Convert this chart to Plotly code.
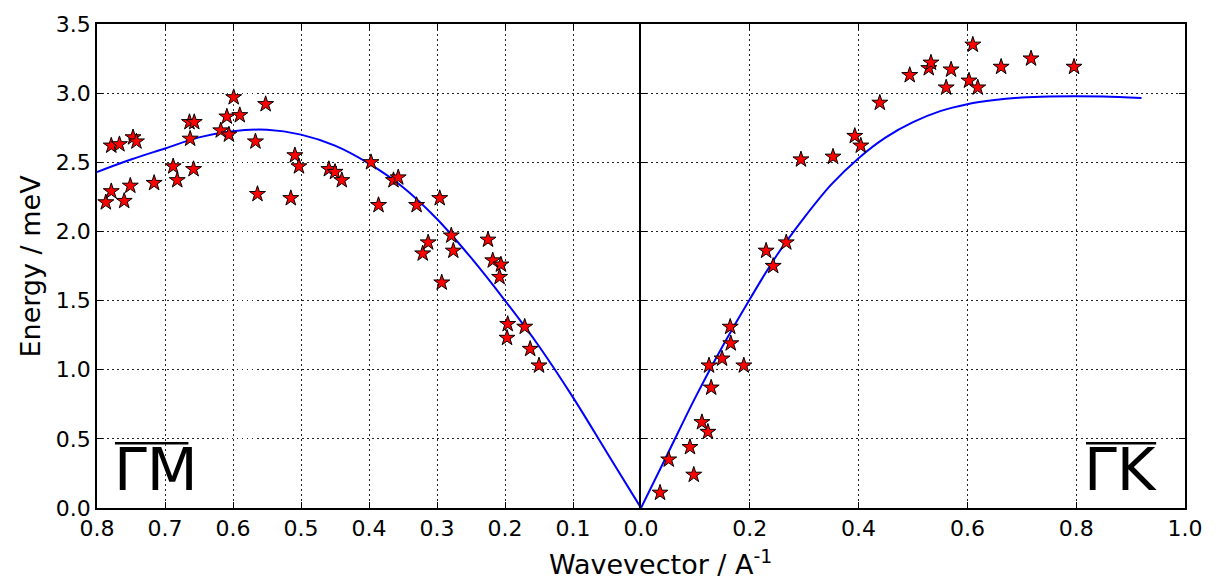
import plotly.graph_objects as go
from plotly.subplots import make_subplots

# Gamma-M direction (left panel), wavevector in A^-1, energy in meV
gm_k = [0.787, 0.779, 0.779, 0.767, 0.760, 0.751, 0.747, 0.742, 0.716, 0.688,
        0.682, 0.664, 0.663, 0.657, 0.658, 0.618, 0.609, 0.606, 0.599, 0.590,
        0.567, 0.564, 0.552, 0.515, 0.509, 0.503, 0.459, 0.450, 0.440, 0.397,
        0.386, 0.364, 0.357, 0.330, 0.321, 0.313, 0.296, 0.293, 0.279, 0.276,
        0.225, 0.218, 0.206, 0.208, 0.196, 0.197, 0.171, 0.163, 0.150]
gm_e = [2.21, 2.29, 2.62, 2.63, 2.22, 2.33, 2.68, 2.65, 2.35, 2.47,
        2.37, 2.79, 2.67, 2.79, 2.45, 2.73, 2.83, 2.70, 2.97, 2.84,
        2.65, 2.27, 2.92, 2.24, 2.55, 2.47, 2.45, 2.43, 2.37, 2.50,
        2.19, 2.37, 2.39, 2.19, 1.84, 1.92, 2.24, 1.63, 1.97, 1.86,
        1.94, 1.79, 1.76, 1.67, 1.33, 1.23, 1.31, 1.15, 1.03]

gm_fit_k = [0.0, 0.05, 0.1, 0.15, 0.2, 0.25, 0.3, 0.35, 0.4, 0.45, 0.5,
            0.55, 0.6, 0.65, 0.7, 0.75, 0.8]
gm_fit_e = [0.0, 0.40, 0.80, 1.17, 1.50, 1.81, 2.09, 2.32, 2.49, 2.62, 2.70,
            2.735, 2.725, 2.68, 2.60, 2.52, 2.43]

# Gamma-K direction (right panel)
gk_k = [0.035, 0.051, 0.097, 0.090, 0.112, 0.123, 0.129, 0.125, 0.149, 0.165,
        0.164, 0.189, 0.230, 0.243, 0.267, 0.294, 0.353, 0.393, 0.404, 0.439,
        0.494, 0.529, 0.533, 0.570, 0.561, 0.603, 0.619, 0.610, 0.662, 0.717,
        0.796]
gk_e = [0.11, 0.35, 0.24, 0.44, 0.62, 0.55, 0.87, 1.03, 1.08, 1.19,
        1.31, 1.03, 1.86, 1.75, 1.92, 2.52, 2.54, 2.69, 2.62, 2.93,
        3.13, 3.18, 3.22, 3.17, 3.04, 3.09, 3.04, 3.35, 3.19, 3.25,
        3.19]

gk_fit_k = [0.0, 0.05, 0.1, 0.15, 0.2, 0.25, 0.3, 0.35, 0.4, 0.45, 0.5,
            0.55, 0.6, 0.65, 0.7, 0.75, 0.8, 0.85, 0.92]
gk_fit_e = [0.0, 0.40, 0.80, 1.17, 1.51, 1.83, 2.10, 2.34, 2.53, 2.68, 2.79,
            2.87, 2.92, 2.95, 2.968, 2.976, 2.978, 2.975, 2.965]

left_ticks = [0.8, 0.7, 0.6, 0.5, 0.4, 0.3, 0.2, 0.1]
right_ticks = [0.0, 0.2, 0.4, 0.6, 0.8, 1.0]
y_ticks = [0.0, 0.5, 1.0, 1.5, 2.0, 2.5, 3.0, 3.5]

FONT = "DejaVu Sans"

fig = make_subplots(rows=1, cols=2, shared_yaxes=False, horizontal_spacing=0)

star = dict(symbol="star", size=12, color="red", line=dict(color="black", width=1))
blue = dict(color="blue", width=2)

fig.add_trace(go.Scatter(x=gm_fit_k, y=gm_fit_e, mode="lines", line=blue,
                         line_shape="spline", showlegend=False), row=1, col=1)
fig.add_trace(go.Scatter(x=gm_k, y=gm_e, mode="markers", marker=star,
                         showlegend=False, cliponaxis=False), row=1, col=1)
fig.add_trace(go.Scatter(x=gk_fit_k, y=gk_fit_e, mode="lines", line=blue,
                         line_shape="spline", showlegend=False), row=1, col=2)
fig.add_trace(go.Scatter(x=gk_k, y=gk_e, mode="markers", marker=star,
                         showlegend=False, cliponaxis=False), row=1, col=2)

axis_common = dict(
    showline=True, linecolor="black", linewidth=1.5, mirror="ticks",
    ticks="inside", ticklen=6, tickwidth=1, tickcolor="black",
    showgrid=True, gridcolor="#222222", gridwidth=1, griddash="1.5px,3.5px",
    zeroline=False, tickfont=dict(family=FONT, size=22, color="black"),
)

fig.update_xaxes(axis_common)
fig.update_yaxes(axis_common)

fig.update_xaxes(range=[0.8, 0.0], tickvals=left_ticks,
                 ticktext=[f"{v:.1f}" for v in left_ticks],
                 domain=[0.0, 0.5], row=1, col=1)
fig.update_xaxes(range=[0.0, 1.0], tickvals=right_ticks,
                 ticktext=[f"{v:.1f}" for v in right_ticks],
                 domain=[0.5, 1.0], row=1, col=2)
fig.update_yaxes(range=[0.0, 3.5], tickvals=y_ticks, mirror=False,
                 ticktext=[f"{v:.1f}" for v in y_ticks], row=1, col=1)
fig.update_yaxes(range=[0.0, 3.5], tickvals=y_ticks, showticklabels=False,
                 row=1, col=2)

# Panel labels with overlines
fig.add_annotation(text="ΓM", xref="x domain", yref="y domain", x=0.027, y=0.004,
                   xanchor="left", yanchor="bottom", showarrow=False,
                   font=dict(family=FONT, size=59, color="black"))
fig.add_annotation(text="ΓK", xref="x2 domain", yref="y2 domain", x=0.953, y=0.004,
                   xanchor="right", yanchor="bottom", showarrow=False,
                   font=dict(family=FONT, size=59, color="black"))
fig.add_shape(type="line", xref="x domain", yref="y domain",
              x0=0.033, x1=0.168, y0=0.134, y1=0.134,
              line=dict(color="black", width=2.5))
fig.add_shape(type="line", xref="x2 domain", yref="y2 domain",
              x0=0.818, x1=0.947, y0=0.134, y1=0.134,
              line=dict(color="black", width=2.5))

# Axis titles
fig.add_annotation(text="Energy / meV", xref="paper", yref="paper",
                   x=-0.062, y=0.5, xanchor="center", yanchor="middle",
                   textangle=-90, showarrow=False,
                   font=dict(family=FONT, size=27, color="black"))
fig.add_annotation(text="Wavevector / A<sup>-1</sup>", xref="paper", yref="paper",
                   x=0.518, y=-0.072, xanchor="center", yanchor="top",
                   showarrow=False, font=dict(family=FONT, size=27, color="black"))

fig.update_layout(
    width=1219, height=581,
    margin=dict(l=97, r=34, t=20, b=73),
    paper_bgcolor="white", plot_bgcolor="white",
    font=dict(family=FONT, color="black"),
    showlegend=False,
)

fig.write_html("out.html")
